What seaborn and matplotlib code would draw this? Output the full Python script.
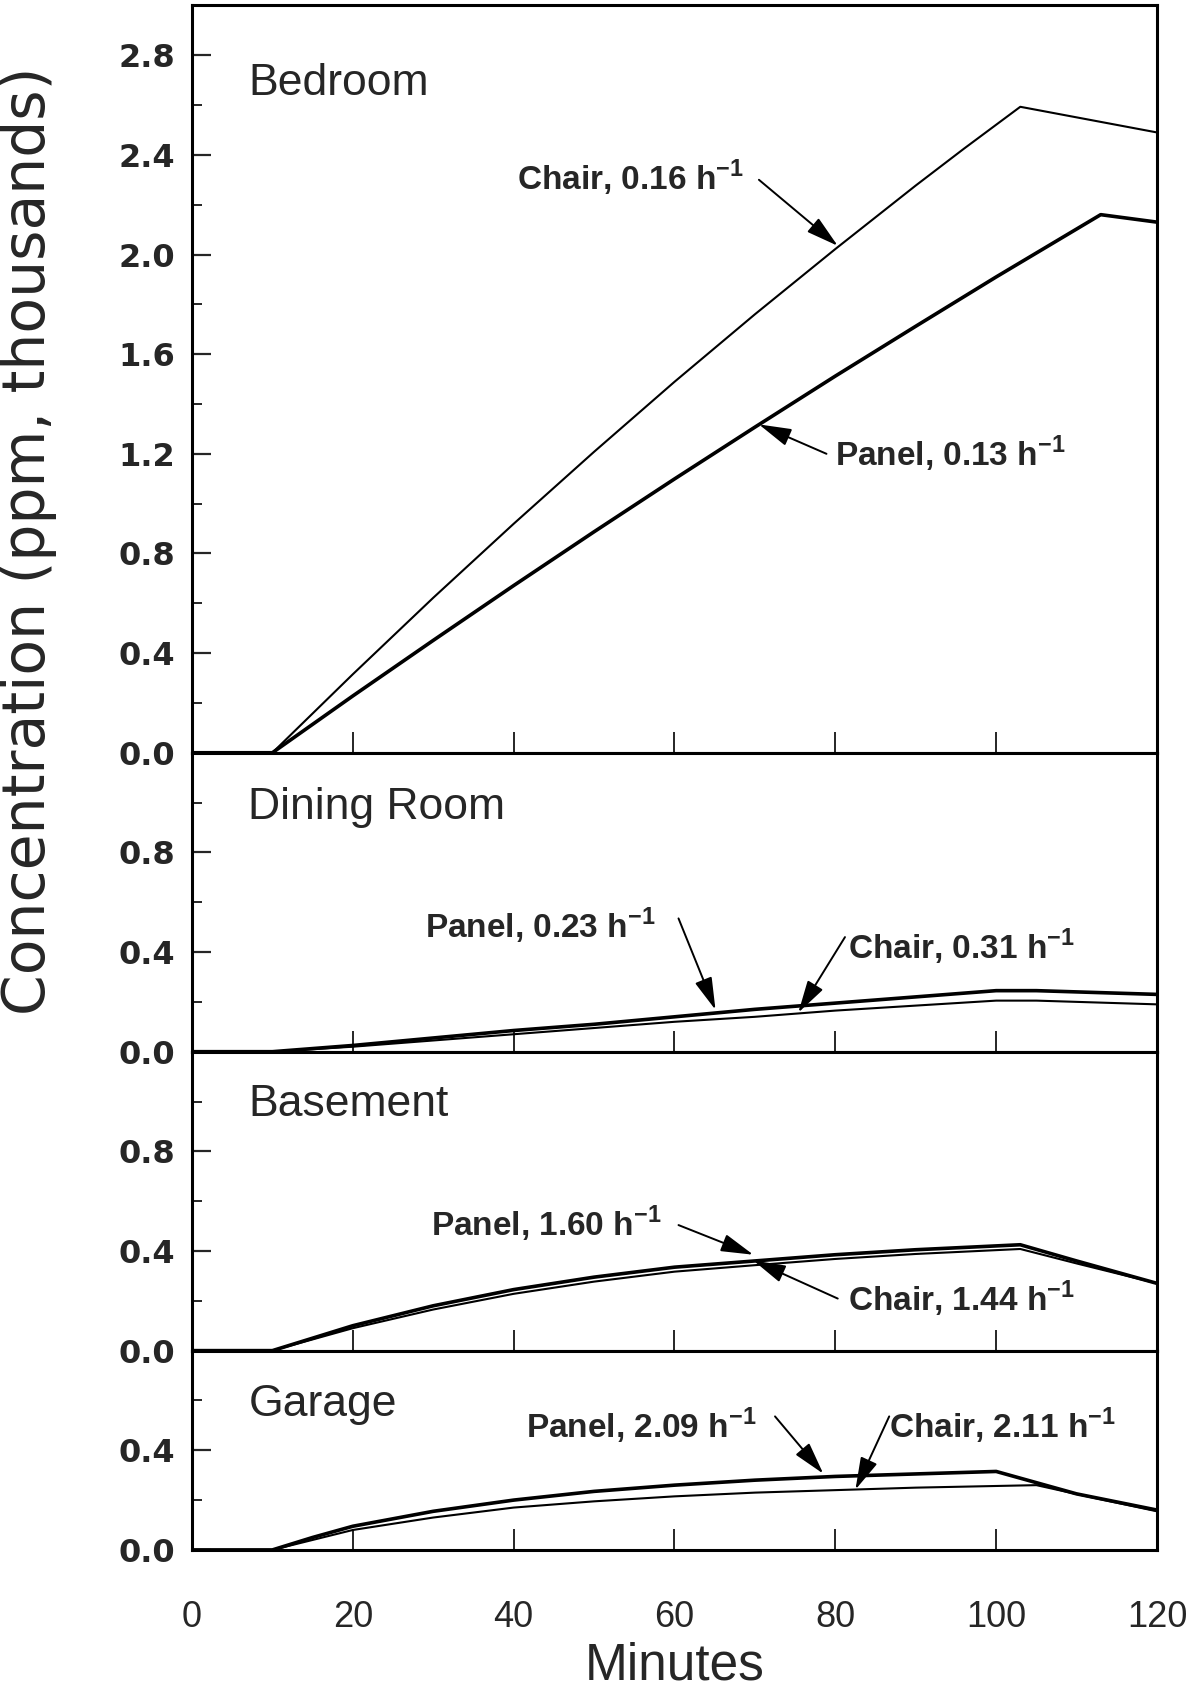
import numpy as np
import pandas as pd
import matplotlib
matplotlib.use("Agg")
import matplotlib.pyplot as plt
import seaborn as sns
from matplotlib.ticker import MultipleLocator

# ---------------- data ----------------
rooms = ["Bedroom", "Dining Room", "Basement", "Garage"]
ytops = [3.0, 1.2, 1.2, 0.8]

bed_panel_x = [0, 10, 20, 30, 40, 50, 60, 70, 80, 90, 100, 113, 120]
bed_panel_y = [0, 0, 0.228, 0.451, 0.671, 0.887, 1.099, 1.307, 1.512, 1.712, 1.910, 2.16, 2.13]
bed_chair_x = [0, 10, 20, 30, 40, 50, 60, 70, 80, 90, 96, 103, 120]
bed_chair_y = [0, 0, 0.315, 0.622, 0.919, 1.208, 1.489, 1.760, 2.022, 2.277, 2.425, 2.593, 2.49]

din_panel_x = [0, 10, 20, 30, 40, 50, 60, 70, 80, 90, 100, 105, 120]
din_panel_y = [0, 0, 0.025, 0.055, 0.085, 0.11, 0.14, 0.17, 0.195, 0.22, 0.245, 0.245, 0.23]
din_chair_x = [0, 10, 20, 30, 40, 50, 60, 70, 80, 90, 100, 105, 120]
din_chair_y = [0, 0, 0.02, 0.045, 0.07, 0.095, 0.12, 0.14, 0.165, 0.185, 0.205, 0.205, 0.19]

bas_panel_x = [0, 10, 15, 20, 30, 40, 50, 60, 70, 80, 90, 103, 110, 120]
bas_panel_y = [0, 0, 0.05, 0.10, 0.18, 0.245, 0.295, 0.335, 0.36, 0.385, 0.405, 0.425, 0.36, 0.27]
bas_chair_x = [0, 10, 15, 20, 30, 40, 50, 60, 70, 80, 90, 103, 110, 120]
bas_chair_y = [0, 0, 0.045, 0.09, 0.165, 0.228, 0.277, 0.317, 0.343, 0.368, 0.388, 0.408, 0.35, 0.27]

gar_panel_x = [0, 10, 15, 20, 30, 40, 50, 60, 70, 80, 90, 100, 110, 120]
gar_panel_y = [0, 0, 0.05, 0.095, 0.155, 0.20, 0.235, 0.26, 0.28, 0.295, 0.305, 0.315, 0.225, 0.16]
gar_chair_x = [0, 10, 15, 20, 30, 40, 50, 60, 70, 80, 90, 105, 112, 120]
gar_chair_y = [0, 0, 0.04, 0.08, 0.13, 0.17, 0.195, 0.215, 0.23, 0.24, 0.25, 0.26, 0.21, 0.155]

series = {
    "Bedroom": [(bed_chair_x, bed_chair_y, "Chair"), (bed_panel_x, bed_panel_y, "Panel")],
    "Dining Room": [(din_chair_x, din_chair_y, "Chair"), (din_panel_x, din_panel_y, "Panel")],
    "Basement": [(bas_chair_x, bas_chair_y, "Chair"), (bas_panel_x, bas_panel_y, "Panel")],
    "Garage": [(gar_chair_x, gar_chair_y, "Chair"), (gar_panel_x, gar_panel_y, "Panel")],
}

# annotations: (label, text x, text y, arrow tail (x,y), arrow tip (x,y))
annotations = {
    "Bedroom": [("Chair, 0.16 h", 40.4, 2.26, (70.5, 2.30), (80.3, 2.035)),
                ("Panel, 0.13 h", 79.9, 1.15, (78.9, 1.20), (70.5, 1.318))],
    "Dining Room": [("Panel, 0.23 h", 29.0, 0.455, (60.5, 0.535), (65.1, 0.168)),
                    ("Chair, 0.31 h", 81.6, 0.37, (81.2, 0.46), (75.4, 0.157))],
    "Basement": [("Panel, 1.60 h", 29.7, 0.46, (60.5, 0.504), (69.8, 0.385)),
                 ("Chair, 1.44 h", 81.6, 0.157, (80.3, 0.209), (69.8, 0.362))],
    "Garage": [("Panel, 2.09 h", 41.5, 0.448, (72.5, 0.536), (78.5, 0.306)),
               ("Chair, 2.11 h", 86.7, 0.448, (86.7, 0.536), (82.5, 0.242))],
}
room_label_pos = {"Bedroom": (7.0, 2.64), "Dining Room": (7.0, 0.935),
                  "Basement": (7.0, 0.94), "Garage": (7.0, 0.536)}
xticks = [0, 20, 40, 60, 80, 100, 120]

# ---------------- plotting ----------------
sns.set_style("ticks")
plt.rcParams["font.family"] = ["Liberation Sans", "DejaVu Sans"]
plt.rcParams["mathtext.fontset"] = "custom"
plt.rcParams["mathtext.bf"] = "Liberation Sans:bold"
plt.rcParams["mathtext.rm"] = "Liberation Sans"

fig = plt.figure(figsize=(11.96, 16.88), dpi=100)
gs = fig.add_gridspec(4, 1, height_ratios=ytops, hspace=0,
                      left=0.1605, right=0.9674, top=0.9968, bottom=0.0818)

lw_thin, lw_thick = 1.5, 2.6
for i, room in enumerate(rooms):
    ax = fig.add_subplot(gs[i])
    for xs, ys, kind in series[room]:
        df = pd.DataFrame({"Minutes": xs, "Conc": ys})
        sns.lineplot(data=df, x="Minutes", y="Conc", ax=ax, color="black",
                     linewidth=(lw_thick if kind == "Panel" else lw_thin),
                     estimator=None, sort=False)
    ax.set_xlim(0, 120)
    ax.set_ylim(0, ytops[i])
    ax.set_xticks(xticks)
    yt = np.arange(0, ytops[i] - 0.05, 0.4)
    ax.set_yticks(yt)
    ax.set_yticklabels([f"{v:.1f}" for v in yt], fontfamily="DejaVu Sans",
                       fontweight="bold", fontsize=23)
    ax.yaxis.set_minor_locator(MultipleLocator(0.2))
    ax.tick_params(axis="y", which="major", direction="in", length=14, width=1.6,
                   left=True, right=False, pad=12)
    ax.tick_params(axis="y", which="minor", direction="in", length=7, width=1.4,
                   left=True, right=False)
    ax.tick_params(axis="x", which="major", direction="in", length=15, width=1.4,
                   bottom=True, top=False, pad=36, labelsize=26)
    if i < 3:
        ax.tick_params(axis="x", labelbottom=False)
    ax.set_xlabel("")
    ax.set_ylabel("")
    for sp in ax.spines.values():
        sp.set_visible(True)
        sp.set_linewidth(2.2)
        sp.set_color("black")
    rx, ry = room_label_pos[room]
    ax.text(rx, ry, room, fontsize=32, va="baseline", ha="left")
    for label, tx, ty, tail, tip in annotations[room]:
        ax.text(tx, ty, label + r"$^{\mathbf{-1}}$", fontsize=24, fontweight="bold",
                va="baseline", ha="left")
        ax.annotate("", xy=tip, xytext=tail,
                    arrowprops=dict(arrowstyle="-|>,head_length=0.8,head_width=0.22",
                                    color="black", lw=1.4, mutation_scale=25,
                                    shrinkA=0, shrinkB=0))

fig.text(29 / 1196, 1 - 541 / 1688, "Concentration (ppm, thousands)",
         rotation=90, ha="center", va="center", fontsize=42, fontfamily="DejaVu Sans")
fig.text(0.5645, 0.005, "Minutes", ha="center", va="baseline", fontsize=37)

fig.savefig("out.png", dpi=100, facecolor="white")
